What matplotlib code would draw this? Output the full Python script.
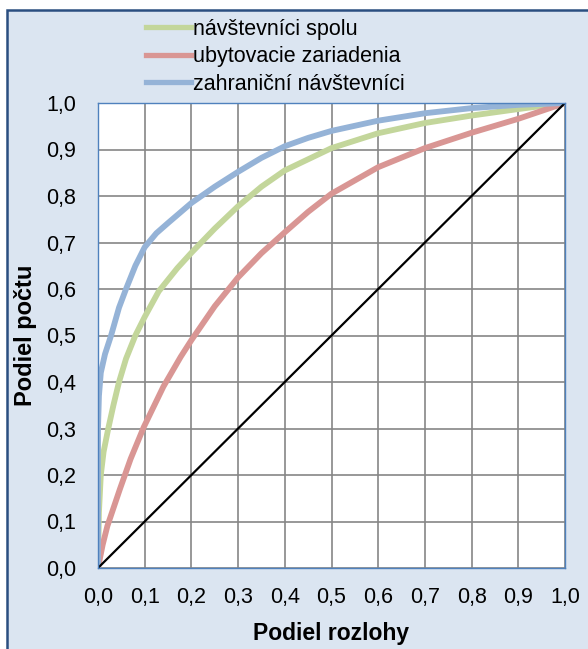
import numpy as np
import matplotlib.pyplot as plt
from matplotlib.patches import Rectangle

plt.rcParams['font.family'] = ['Liberation Sans', 'DejaVu Sans']

# share of area (x) vs share of count (y)
spolu_x = [0, 0.002, 0.006, 0.012, 0.022, 0.033, 0.045, 0.06, 0.08, 0.1, 0.13, 0.17, 0.2,
           0.25, 0.3, 0.35, 0.4, 0.5, 0.6, 0.7, 0.8, 0.9, 1.0]
spolu_y = [0, 0.12, 0.2, 0.25, 0.3, 0.35, 0.4, 0.45, 0.5, 0.54, 0.595, 0.645, 0.678,
           0.73, 0.778, 0.82, 0.855, 0.903, 0.935, 0.957, 0.973, 0.987, 1.0]

ubyt_x = [0, 0.01, 0.02, 0.047, 0.07, 0.098, 0.14, 0.177, 0.2, 0.25, 0.3, 0.35, 0.4,
          0.45, 0.5, 0.6, 0.7, 0.8, 0.9, 0.95, 1.0]
ubyt_y = [0, 0.05, 0.09, 0.17, 0.235, 0.303, 0.39, 0.454, 0.49, 0.563, 0.625, 0.677, 0.722,
          0.766, 0.805, 0.862, 0.903, 0.936, 0.966, 0.983, 1.0]

zahr_x = [0, 0, 0.002, 0.006, 0.015, 0.028, 0.045, 0.06, 0.08, 0.1, 0.125, 0.15, 0.2,
          0.25, 0.3, 0.35, 0.4, 0.45, 0.5, 0.6, 0.7, 0.8, 0.9, 1.0]
zahr_y = [0, 0.3, 0.37, 0.42, 0.46, 0.5, 0.56, 0.6, 0.65, 0.69, 0.72, 0.742, 0.785,
          0.82, 0.852, 0.882, 0.907, 0.925, 0.94, 0.962, 0.978, 0.989, 0.996, 1.0]

rovnost = [0, 1]
ticks = np.round(np.arange(0, 1.01, 0.1), 1)
tick_labels = [f'{t:.1f}'.replace('.', ',') for t in ticks]

bg = '#DBE5F1'
fig = plt.figure(figsize=(5.88, 6.49), dpi=100, facecolor='white')
fig.patches.append(Rectangle((7 / 588, -0.05), 1.0, 1 - 10 / 649 + 0.05, transform=fig.transFigure,
                             facecolor=bg, edgecolor='#2A4E80', linewidth=1.8, zorder=-10))

ax = fig.add_axes([98 / 588, 1 - 568 / 649, 467 / 588, 465 / 649])
ax.set_facecolor('white')

lw = 4.2
ax.plot(spolu_x, spolu_y, color='#C3D69B', lw=lw, solid_joinstyle='round', label='návštevníci spolu')
ax.plot(ubyt_x, ubyt_y, color='#D99694', lw=lw, solid_joinstyle='round', label='ubytovacie zariadenia')
ax.plot(zahr_x, zahr_y, color='#95B3D7', lw=lw, solid_joinstyle='round', label='zahraniční návštevníci')
ax.plot(rovnost, rovnost, color='black', lw=1.6)

ax.set_xlim(0, 1)
ax.set_ylim(0, 1)
ax.set_xticks(ticks)
ax.set_yticks(ticks)
ax.set_xticklabels(tick_labels, fontsize=15.5)
ax.set_yticklabels(tick_labels, fontsize=15.5)
ax.tick_params(length=0)
ax.tick_params(axis='x', pad=14)
ax.tick_params(axis='y', pad=16)
ax.grid(True, color='#868686', lw=1.2)
ax.set_axisbelow(True)
for s in ax.spines.values():
    s.set_color('#4F81BD')
    s.set_linewidth(1)

ax.set_xlabel('Podiel rozlohy', fontsize=16.5, fontweight='bold', labelpad=10)
ax.set_ylabel('Podiel počtu', fontsize=17, fontweight='bold', labelpad=6)

leg = fig.legend(loc='upper left', bbox_to_anchor=(137 / 588, 1 - 10 / 649), frameon=False,
                 fontsize=15.5, handlelength=2.1, handletextpad=0.1, labelspacing=0.3,
                 borderaxespad=0)
for h in leg.get_lines():
    h.set_linewidth(3.8)

fig.savefig('out.png', dpi=100, facecolor='white')
